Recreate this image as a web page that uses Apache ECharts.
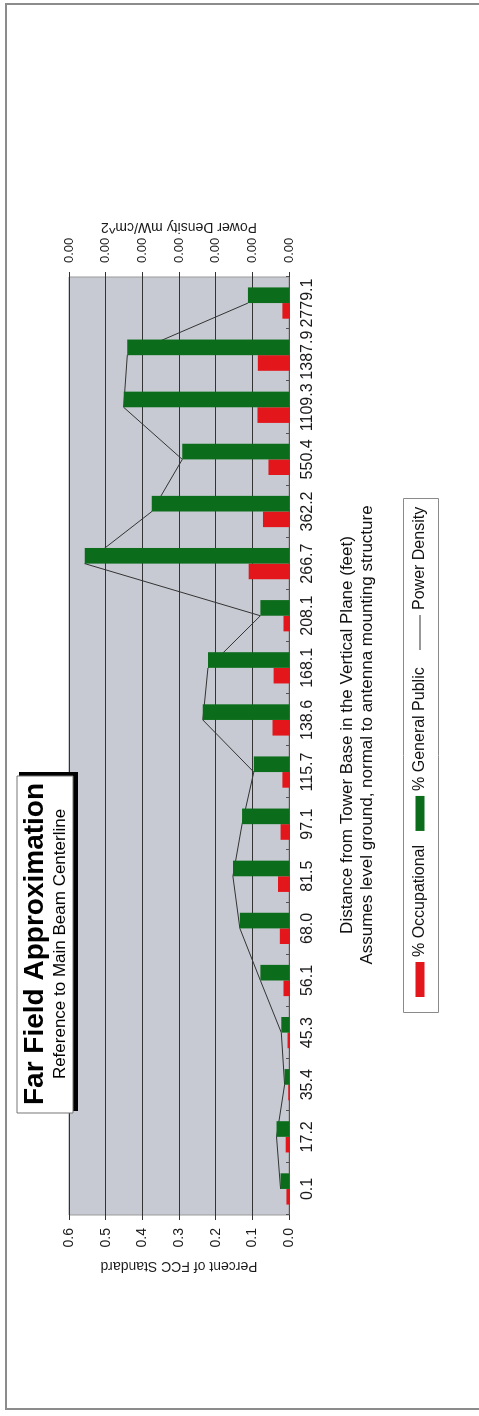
<!DOCTYPE html>
<html>
<head>
<meta charset="utf-8">
<title>Far Field Approximation</title>
<script src="https://cdn.jsdelivr.net/npm/echarts@6/dist/echarts.min.js"></script>
<style>
  html, body { margin: 0; padding: 0; background: #fff; overflow: hidden; }
  body { width: 479px; height: 1416px; position: relative; }
  #frame {
    position: absolute; left: 5px; top: 3px; width: 520px; height: 1407px;
    border: 2px solid #8c8c8c; box-sizing: border-box;
  }
  /* chart is laid out landscape, then turned a quarter turn anticlockwise */
  #farField {
    position: absolute; left: 0; top: 1416px; width: 1416px; height: 479px;
    transform-origin: 0 0; transform: rotate(-90deg);
  }
</style>
</head>
<body>
<div id="frame"></div>
<div id="farField"></div>
<script>
// distance from tower base (feet)
const distances = ['0.1', '17.2', '35.4', '45.3', '56.1', '68.0', '81.5', '97.1', '115.7',
  '138.6', '168.1', '208.1', '266.7', '362.2', '550.4', '1109.3', '1387.9', '2779.1']
// percent of FCC standard
const occupational = [0.007, 0.009, 0.002, 0.004, 0.015, 0.025, 0.030, 0.023, 0.018,
  0.045, 0.042, 0.015, 0.110, 0.071, 0.056, 0.086, 0.085, 0.018]
const generalPublic = [0.023, 0.034, 0.012, 0.021, 0.078, 0.134, 0.153, 0.128, 0.096,
  0.235, 0.221, 0.078, 0.557, 0.374, 0.291, 0.451, 0.441, 0.112]
// power density mW/cm^2 (all below 0.005, so the axis shows 0.00 everywhere)
const powerDensity = [0.000046, 0.000068, 0.000024, 0.000042, 0.000156, 0.000268, 0.000306, 0.000256, 0.000192,
  0.00047, 0.000442, 0.000156, 0.001114, 0.000748, 0.000582, 0.000902, 0.000882, 0.000224]

const FONT = "'Liberation Sans', Arial, sans-serif"

const chart = echarts.init(document.getElementById('farField'), null, { renderer: 'canvas' })

const legendText = { fontSize: 16, color: '#111', fontFamily: FONT }

let option = {
  animation: false,
  backgroundColor: 'transparent',
  textStyle: { fontFamily: FONT },
  grid: {
    show: true,
    left: 201,
    top: 69,
    width: 938,
    height: 220,
    backgroundColor: '#c7cad2',
    borderColor: '#9a9a9a',
    borderWidth: 1,
  },
  // two legends inside one drawn box: bars, then the plain line
  legend: [
    {
      left: 403,
      top: 403,
      padding: [9, 0, 9, 16],
      itemGap: 14,
      itemWidth: 35,
      itemHeight: 9,
      textStyle: legendText,
      data: [
        { name: '% Occupational', icon: 'rect' },
        { name: '% General Public', icon: 'rect' },
      ],
    },
    {
      left: 766,
      top: 403,
      padding: [9, 0, 9, 0],
      itemWidth: 35,
      itemHeight: 1,
      textStyle: legendText,
      data: [{ name: 'Power Density', icon: 'rect' }],
    },
  ],
  xAxis: {
    type: 'category',
    data: distances,
    axisLine: { lineStyle: { color: '#555' } },
    axisTick: { show: true, inside: true, length: 3, lineStyle: { color: '#555' } },
    axisLabel: {
      interval: 0,
      hideOverlap: false,
      margin: 11,
      fontSize: 16,
      color: '#1a1a1a',
      fontFamily: FONT,
    },
  },
  yAxis: [
    {
      type: 'value',
      min: 0,
      max: 0.6,
      interval: 0.1,
      name: 'Percent of FCC Standard',
      nameLocation: 'middle',
      nameRotate: 90,
      nameGap: 42,
      nameTextStyle: { fontSize: 14, color: '#1a1a1a', fontFamily: FONT },
      axisLine: { show: false },
      axisTick: { show: true, length: 5, lineStyle: { color: '#333' } },
      axisLabel: {
        margin: 13,
        fontSize: 14,
        color: '#1a1a1a',
        formatter: (v) => v.toFixed(1),
      },
      splitLine: { show: true, lineStyle: { color: '#333', width: 1 } },
    },
    {
      type: 'value',
      position: 'right',
      min: 0,
      max: 0.0012,
      interval: 0.0002,
      name: 'Power Density mW/cm^2',
      nameLocation: 'middle',
      nameRotate: 90,
      nameGap: 43,
      nameMoveOverlap: false,
      nameTextStyle: { fontSize: 14, color: '#1a1a1a', fontFamily: FONT },
      axisLine: { show: false },
      axisTick: { show: true, length: 5, lineStyle: { color: '#333' } },
      axisLabel: {
        margin: 14,
        fontSize: 13,
        color: '#1a1a1a',
        formatter: (v) => v.toFixed(2),
      },
      splitLine: { show: false },
    },
  ],
  series: [
    {
      name: '% Occupational',
      type: 'bar',
      barGap: 0,
      barCategoryGap: '40%',
      z: 3,
      itemStyle: { color: '#e3161c' },
      data: occupational,
    },
    {
      name: '% General Public',
      type: 'bar',
      barGap: 0,
      barCategoryGap: '40%',
      z: 3,
      itemStyle: { color: '#0b6d1b' },
      data: generalPublic,
    },
    {
      name: 'Power Density',
      type: 'line',
      yAxisIndex: 1,
      symbol: 'none',
      z: 2,
      itemStyle: { color: '#333' },
      lineStyle: { color: '#333', width: 1 },
      data: powerDensity,
    },
  ],
  graphic: [
    // legend frame
    {
      type: 'rect',
      shape: { x: 403.5, y: 403.5, width: 514, height: 35 },
      style: { fill: 'none', stroke: '#8a8a8a', lineWidth: 1 },
    },
    // title box with its drop shadow
    { type: 'rect', shape: { x: 305, y: 19, width: 339, height: 59 }, style: { fill: '#000' }, z: 10 },
    {
      type: 'rect',
      shape: { x: 303, y: 17, width: 337, height: 56 },
      style: { fill: '#fff', stroke: '#777', lineWidth: 1 },
      z: 11,
    },
    {
      type: 'text', x: 472, y: 35, z: 12,
      style: {
        text: 'Far Field Approximation',
        font: 'bold 28px ' + FONT,
        fill: '#000',
        textAlign: 'center', textVerticalAlign: 'middle',
        align: 'center', verticalAlign: 'middle',
      },
    },
    {
      type: 'text', x: 472, y: 60, z: 12,
      style: {
        text: 'Reference to Main Beam Centerline',
        font: '17px ' + FONT,
        fill: '#000',
        textAlign: 'center', textVerticalAlign: 'middle',
        align: 'center', verticalAlign: 'middle',
      },
    },
    // x axis title, two lines
    {
      type: 'text', x: 681, y: 347,
      style: {
        text: 'Distance from Tower Base in the Vertical Plane (feet)',
        font: '17px ' + FONT,
        fill: '#111',
        textAlign: 'center', textVerticalAlign: 'middle',
        align: 'center', verticalAlign: 'middle',
      },
    },
    {
      type: 'text', x: 681, y: 367,
      style: {
        text: 'Assumes level ground, normal to antenna mounting structure',
        font: '17px ' + FONT,
        fill: '#111',
        textAlign: 'center', textVerticalAlign: 'middle',
        align: 'center', verticalAlign: 'middle',
      },
    },
  ],
}

chart.setOption(option)
</script>
</body>
</html>
